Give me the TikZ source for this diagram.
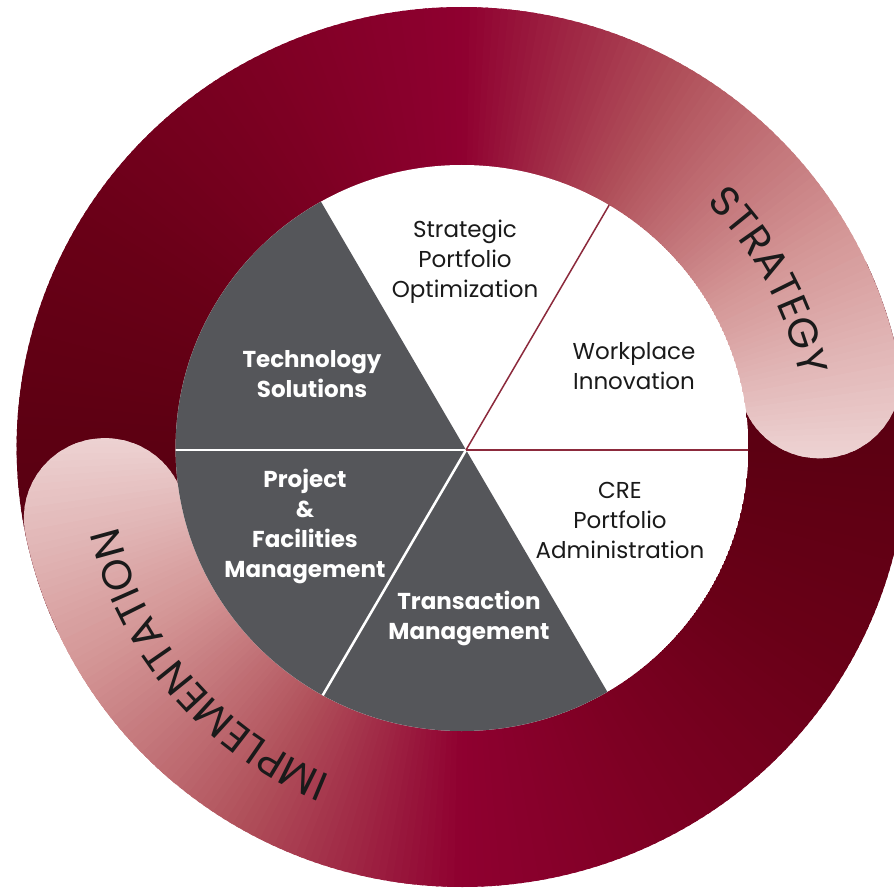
\documentclass[tikz,border=0pt]{standalone}
\usepackage{fontspec}
\setmainfont{Poppins}
\usetikzlibrary{decorations.text,calc}
\definecolor{r0}{HTML}{520010}
\definecolor{r1}{HTML}{5C0012}
\definecolor{r2}{HTML}{690017}
\definecolor{r3}{HTML}{7C0022}
\definecolor{r4}{HTML}{8F0030}
\definecolor{r5}{HTML}{B0505A}
\definecolor{r6}{HTML}{D49696}
\definecolor{r7}{HTML}{ECD0D0}
\definecolor{r8}{HTML}{F5E8E8}
\definecolor{piegray}{HTML}{55565A}
\definecolor{divred}{HTML}{8C2A3C}
\definecolor{ink}{HTML}{1A1A1A}
\newcommand\ringfont{\fontsize{41.5}{41.5}\selectfont}
\newcommand\ringwedges[1]{%
 \foreach \angA/\angB/\colA/\colB in {212/180/r0/r1,180/150/r1/r2,150/120/r2/r3,120/90/r3/r4,90/60/r4/r5,60/30/r5/r6,30/0/r6/r7,0/-14/r7/r8}{%
  \foreach \k in {0,...,29}{%
   \pgfmathsetmacro\wa{#1+\angA+(\angB-\angA)*\k/30}%
   \pgfmathsetmacro\wb{#1+\angA+(\angB-\angA)*(\k+1.5)/30}%
   \pgfmathtruncatemacro\wpc{100*(\k+0.5)/30}%
   \colorlet{wc}{\colB!\wpc!\colA}%
   \fill[wc] (0,0) -- (\wa:470) -- (\wb:470) -- cycle;
  }}}
\begin{document}
\begin{tikzpicture}[x=1pt,y=1pt,
  pietext/.style={font=\fontsize{23}{30}\selectfont, align=center, text=ink},
  piebold/.style={font=\fontsize{23}{30}\selectfont\bfseries, align=center, text=white}]
\useasboundingbox (-462,-442) rectangle (432,447);
\clip (-462,-442) rectangle (432,447);
\begin{scope}[xscale=1.012]
  % implementation arc (B)
  \begin{scope}
    \clip (25:440) arc[start angle=25, end angle=-168.6, radius=440]
      arc[start angle=-168.6, end angle=-348.6, radius=80]
      arc[start angle=-168.6, end angle=25, radius=280] -- cycle;
    \ringwedges{-180}
  \end{scope}
  % strategy arc (A)
  \begin{scope}
    \clip (205:440) arc[start angle=205, end angle=11, radius=440]
      arc[start angle=11, end angle=-169, radius=80]
      arc[start angle=11, end angle=205, radius=280] -- cycle;
    \ringwedges{0}
  \end{scope}
  % end of implementation arc on top
  \begin{scope}
    \clip (-130:440) arc[start angle=-130, end angle=-168.6, radius=440]
      arc[start angle=-168.6, end angle=-348.6, radius=80]
      arc[start angle=-168.6, end angle=-130, radius=280] -- cycle;
    \ringwedges{-180}
  \end{scope}
  % pie
  \begin{scope}
    \clip (0,-1) circle[radius=283];
    \fill[white] (0,-1) circle[radius=283];
    \coordinate (V) at (4,-3);
    \fill[piegray] (V) -- ($(V)+(120:400)$) -- ($(V)+(180:400)$) -- ($(V)+(240:400)$) -- ($(V)+(300:400)$) -- cycle;
    \draw[white, line width=2.5] (V) -- ($(V)+(180:320)$);
    \draw[white, line width=2.5] (V) -- ($(V)+(240:320)$);
    \draw[divred, line width=1.5] (V) -- ($(V)+(60:320)$);
    \draw[divred, line width=1.5] (V) -- ($(V)+(0:320)$);
  \end{scope}
\end{scope}
% ring labels
\path[decorate, decoration={text along path, text={|\ringfont|STRATEGY}, text align=center, text color=ink}]
  (58.3:345.5) arc[start angle=58.3, end angle=-1.7, radius=345.5];
\path[decorate, decoration={text along path, text={|\ringfont|IMPLEMENTATION}, text align=center, text color=ink}]
  (-89.4:353.5) arc[start angle=-89.4, end angle=-189.4, radius=353.5];
% pie labels
\node[pietext] (spo) at (3,185) {Strategic\\Portfolio\\Optimization};
\node[pietext] (wpi) at (172,81) {Workplace\\Innovation};
\node[pietext] (cre) at (158,-73) {CRE\\Portfolio\\Administration};
\node[piebold] (tech) at (-150,73) {Technology\\Solutions};
\node[piebold] (pfm) at (-157,-79) {Project\\\&\\Facilities\\Management};
\node[piebold] (tm) at (7,-171) {Transaction\\Management};
\end{tikzpicture}
\end{document}
